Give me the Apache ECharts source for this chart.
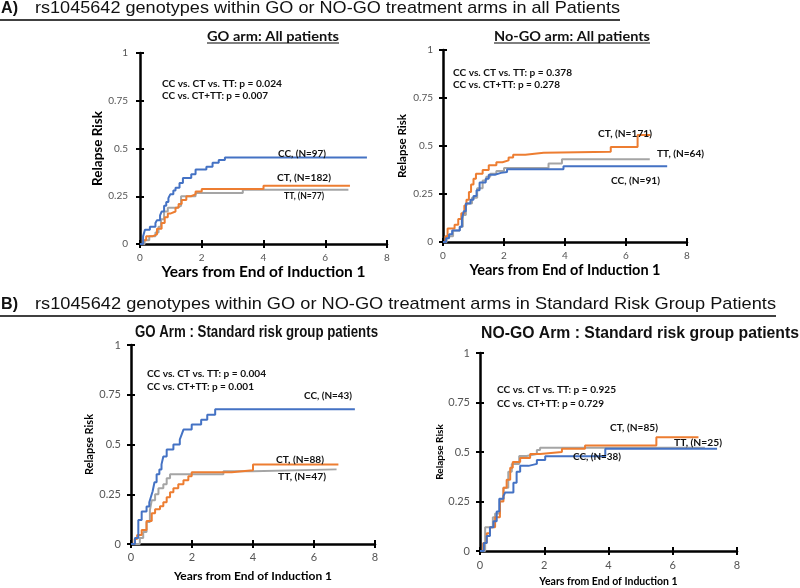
<!DOCTYPE html>
<html>
<head>
<meta charset="utf-8">
<script src="https://cdn.jsdelivr.net/npm/echarts@6/dist/echarts.min.js"></script>
<style>
    html, body { margin: 0; padding: 0; background: #fff; }
    #main { width: 800px; height: 588px; }
</style>
</head>
<body>
<div id="main"></div>
<script>
    // 曲线数据 [年, 累计复发风险]
    var goAllCC = [[0,0],[0.1,0.04],[0.16,0.075],[0.32,0.09],[0.5,0.11],[0.55,0.125],[0.65,0.15],[0.7,0.17],[0.78,0.2],[0.85,0.22],[0.92,0.24],[0.98,0.26],[1.08,0.28],[1.15,0.295],[1.28,0.32],[1.39,0.345],[1.66,0.365],[1.8,0.39],[2.15,0.405],[2.35,0.425],[2.55,0.44],[2.75,0.453],[7.35,0.453]];
    var goAllCT = [[0,0],[0.1,0.02],[0.2,0.04],[0.4,0.05],[0.55,0.08],[0.7,0.11],[0.8,0.14],[0.9,0.16],[1.0,0.17],[1.15,0.19],[1.25,0.21],[1.35,0.23],[1.5,0.25],[1.65,0.26],[1.8,0.275],[2.0,0.288],[4.0,0.305],[6.8,0.305]];
    var goAllTT = [[0,0],[0.15,0.02],[0.3,0.04],[0.5,0.06],[0.6,0.09],[0.68,0.13],[0.78,0.17],[0.9,0.19],[1.2,0.2],[1.33,0.25],[1.8,0.267],[3.33,0.284],[6.75,0.284]];

    var nogoAllCC = [[0,0],[0.1,0.02],[0.2,0.04],[0.3,0.06],[0.55,0.08],[0.62,0.12],[0.68,0.16],[0.75,0.2],[0.9,0.22],[1.0,0.24],[1.1,0.27],[1.2,0.31],[1.4,0.33],[1.5,0.35],[1.7,0.36],[1.9,0.365],[2.1,0.379],[3.95,0.395],[7.35,0.395]];
    var nogoAllCT = [[0,0],[0.08,0.03],[0.15,0.07],[0.38,0.09],[0.5,0.12],[0.6,0.15],[0.7,0.19],[0.77,0.22],[0.85,0.26],[0.92,0.3],[1.0,0.33],[1.08,0.355],[1.3,0.375],[1.5,0.4],[1.75,0.415],[1.95,0.425],[2.15,0.44],[2.3,0.455],[2.7,0.465],[3.3,0.47],[5.5,0.495],[6.38,0.557],[6.8,0.557]];
    var nogoAllTT = [[0,0],[0.12,0.03],[0.33,0.06],[0.55,0.08],[0.65,0.14],[0.75,0.2],[0.95,0.23],[1.12,0.28],[1.3,0.32],[1.42,0.34],[1.55,0.355],[1.75,0.37],[2.0,0.385],[3.46,0.409],[3.9,0.431],[6.78,0.431]];

    var goStdCC = [[0,0],[0.13,0.03],[0.24,0.12],[0.35,0.163],[0.51,0.188],[0.6,0.21],[0.66,0.24],[0.71,0.265],[0.77,0.31],[0.84,0.35],[0.93,0.375],[1.0,0.4],[1.06,0.44],[1.17,0.475],[1.39,0.5],[1.6,0.525],[1.66,0.55],[1.72,0.575],[1.99,0.6],[2.3,0.625],[2.5,0.65],[2.76,0.677],[7.34,0.677]];
    var goStdCT = [[0,0],[0.12,0.025],[0.2,0.045],[0.35,0.07],[0.51,0.115],[0.68,0.154],[0.79,0.175],[0.95,0.19],[1.06,0.21],[1.17,0.235],[1.28,0.26],[1.39,0.28],[1.55,0.3],[1.72,0.32],[1.88,0.34],[1.99,0.36],[3.3,0.37],[4.0,0.4],[6.8,0.4]];
    var goStdTT = [[0,0],[0.29,0.03],[0.4,0.06],[0.51,0.11],[0.62,0.17],[0.68,0.22],[0.79,0.25],[0.9,0.28],[1.06,0.3],[1.17,0.33],[1.28,0.351],[3.03,0.365],[4.0,0.375],[6.74,0.375]];

    var nogoStdCC = [[0,0],[0.12,0.04],[0.21,0.076],[0.31,0.12],[0.42,0.15],[0.52,0.2],[0.6,0.264],[0.73,0.277],[0.78,0.295],[1.04,0.345],[1.14,0.4],[1.25,0.43],[1.51,0.44],[1.77,0.46],[2.03,0.479],[3.9,0.516],[7.38,0.516]];
    var nogoStdCT = [[0,0],[0.1,0.04],[0.21,0.09],[0.31,0.12],[0.47,0.17],[0.62,0.25],[0.73,0.32],[0.83,0.36],[0.94,0.42],[1.02,0.45],[1.25,0.47],[1.56,0.49],[1.87,0.5],[2.55,0.516],[3.27,0.533],[5.49,0.575],[6.8,0.575]];
    var nogoStdTT = [[0,0],[0.16,0.12],[0.4,0.17],[0.47,0.19],[0.62,0.26],[0.73,0.32],[0.88,0.4],[0.99,0.44],[1.22,0.48],[1.45,0.49],[1.77,0.51],[1.87,0.521],[7.0,0.521]];

    var colors = { CC: '#4472C4', CT: '#ED7D31', TT: '#A5A5A5' };
    var xTicks = { min: 0, max: 8, interval: 2 };
    var yTicks = { min: 0, max: 1, interval: 0.25 };

    // 四个面板的位置
    var panels = [
        { left: 140, top: 53, width: 247, height: 191, xName: 15.5, xGap: 19, yName: 13.5, yGap: 32, label: 10, xm: 9, ym: 12,
          data: { CC: goAllCC, CT: goAllCT, TT: goAllTT } },
        { left: 443, top: 50, width: 244, height: 192, xName: 14.5, xGap: 21, yName: 11.5, yGap: 35, label: 10, xm: 9, ym: 10,
          data: { CC: nogoAllCC, CT: nogoAllCT, TT: nogoAllTT } },
        { left: 131, top: 345, width: 244, height: 199, xName: 12, xGap: 26, yName: 11, yGap: 31, label: 11, xm: 8, ym: 10,
          data: { CC: goStdCC, CT: goStdCT, TT: goStdTT } },
        { left: 480, top: 353, width: 257, height: 198, xName: 10.5, xGap: 25, yName: 10, yGap: 32, label: 11, xm: 9, ym: 10,
          data: { CC: nogoStdCC, CT: nogoStdCT, TT: nogoStdTT } }
    ];

    var cv = document.createElement('canvas').getContext('2d');
    function fitScale(txt, size, family, weight, w) {
        cv.font = weight + ' ' + size + 'px ' + family;
        return w / cv.measureText(txt).width;
    }
    // 文本: 左端 x, 中线 y, 目标宽度 w
    function txt(t, x, y, w, size, family, weight) {
        return {
            type: 'text', x: x, y: y, scaleX: fitScale(t, size, family, weight, w), z: 50,
            style: { text: t, fontSize: size, fontFamily: family, fontWeight: weight, fill: '#111', verticalAlign: 'middle' }
        };
    }
    function uline(x1, x2, y, lw) {
        return { type: 'line', z: 50, shape: { x1: x1, y1: y, x2: x2, y2: y }, style: { stroke: '#000', lineWidth: lw || 1.3 } };
    }

    var grid = [], xAxis = [], yAxis = [], series = [];
    var line = { show: true, lineStyle: { color: '#000', width: 2.5 } };
    var tickOut = { show: true, length: 4, lineStyle: { color: '#000', width: 2 } };
    var tickIn = { show: true, inside: true, length: 4, lineStyle: { color: '#000', width: 2 } };
    panels.forEach(function (p, i) {
        grid.push({ left: p.left, top: p.top, width: p.width, height: p.height, outerBoundsMode: 'none' });
        xAxis.push({
            type: 'value', gridIndex: i, position: 'bottom', min: xTicks.min, max: xTicks.max, interval: xTicks.interval,
            name: 'Years from End of Induction 1', nameLocation: 'middle', nameGap: p.xGap,
            nameTextStyle: { fontFamily: 'Lato', fontWeight: 'bold', fontSize: p.xName, color: '#000' },
            axisLine: line, axisTick: tickOut, splitLine: { show: false },
            axisLabel: { margin: p.xm, fontFamily: 'Lato', fontSize: p.label, color: '#555' }
        });
        yAxis.push({
            type: 'value', gridIndex: i, position: 'left', min: yTicks.min, max: yTicks.max, interval: yTicks.interval,
            name: 'Relapse Risk', nameLocation: 'middle', nameGap: p.yGap,
            nameTextStyle: { fontFamily: 'Lato', fontWeight: 'bold', fontSize: p.yName, color: '#000' },
            axisLine: line, axisTick: tickOut, splitLine: { show: false },
            axisLabel: { margin: p.ym, fontFamily: 'Lato', fontSize: p.label, color: '#555' }
        });
        ['TT', 'CT', 'CC'].forEach(function (g) {
            series.push({
                name: g, type: 'line', step: 'end', xAxisIndex: i, yAxisIndex: i,
                showSymbol: false, data: p.data[g], silent: true,
                lineStyle: { color: colors[g], width: 2 }
            });
        });
    });
    // 刻度线穿过轴线：再叠一组只画内侧刻度的轴
    panels.forEach(function (p, i) {
        xAxis.push({
            type: 'value', gridIndex: i, position: 'bottom', min: xTicks.min, max: xTicks.max, interval: xTicks.interval,
            axisLine: { show: false }, axisTick: tickIn, axisLabel: { show: false }, splitLine: { show: false }
        });
        yAxis.push({
            type: 'value', gridIndex: i, position: 'left', min: yTicks.min, max: yTicks.max, interval: yTicks.interval,
            axisLine: { show: false }, axisTick: tickIn, axisLabel: { show: false }, splitLine: { show: false }
        });
    });

    var AR = 'Liberation Sans', CB = 'Lato';
    var graphic = [
        // 总标题
        txt('A)', 1, 8.5, 17, 17, AR, 'bold'),
        txt('rs1045642 genotypes within GO or NO-GO treatment arms in all Patients', 35, 8.5, 585, 17, AR, 'normal'),
        uline(0, 620, 20),
        txt('B)', 1, 304.5, 17, 17, AR, 'bold'),
        txt('rs1045642 genotypes within GO or NO-GO treatment arms in Standard Risk Group Patients', 35, 304.5, 741, 17, AR, 'normal'),
        uline(0, 776, 316),
        // 面板标题
        txt('GO arm: All patients', 207, 37, 132, 13, CB, 'bold'),
        uline(207, 339, 43, 1.2),
        txt('No-GO arm: All patients', 494, 37, 156, 13, CB, 'bold'),
        uline(494, 650, 43, 1.2),
        txt('GO Arm : Standard risk group patients', 135, 333, 243, 16, AR, 'bold'),
        txt('NO-GO Arm : Standard risk group patients', 481, 334, 318, 16, AR, 'bold'),
        // p 值
        txt('CC vs. CT vs. TT: p = 0.024', 162, 83.5, 120, 10, CB, 'bold'),
        txt('CC vs. CT+TT: p = 0.007', 162, 96, 106, 10, CB, 'bold'),
        txt('CC vs. CT vs. TT: p = 0.378', 453, 72.5, 119, 10, CB, 'bold'),
        txt('CC vs. CT+TT: p = 0.278', 453, 85, 107, 10, CB, 'bold'),
        txt('CC vs. CT vs. TT: p = 0.004', 147, 373.5, 119, 10, CB, 'bold'),
        txt('CC vs. CT+TT: p = 0.001', 147, 387, 107, 10, CB, 'bold'),
        txt('CC vs. CT vs. TT: p = 0.925', 497, 390, 119, 10, CB, 'bold'),
        txt('CC vs. CT+TT: p = 0.729', 497, 403.5, 107, 10, CB, 'bold'),
        // 曲线标签
        txt('CC, (N=97)', 278, 153.5, 48, 10, CB, 'bold'),
        txt('CT, (N=182)', 277, 177.5, 54, 10, CB, 'bold'),
        txt('TT, (N=77)', 284, 196, 40, 10, CB, 'bold'),
        txt('CT, (N=171)', 598, 134, 54, 10, CB, 'bold'),
        txt('TT, (N=64)', 657, 153.5, 47, 10, CB, 'bold'),
        txt('CC, (N=91)', 611, 181, 49, 10, CB, 'bold'),
        txt('CC, (N=43)', 304, 396, 48, 10, CB, 'bold'),
        txt('CT, (N=88)', 276, 459.5, 48, 10, CB, 'bold'),
        txt('TT, (N=47)', 278, 477, 48, 10, CB, 'bold'),
        txt('CT, (N=85)', 610, 427.5, 48, 10, CB, 'bold'),
        txt('TT, (N=25)', 674, 443, 48, 10, CB, 'bold'),
        txt('CC, (N=38)', 573, 457, 48, 10, CB, 'bold')
    ];

    var chart = echarts.init(document.getElementById('main'), null, { renderer: 'canvas' });
    chart.setOption({
        animation: false,
        backgroundColor: '#fff',
        grid: grid,
        xAxis: xAxis,
        yAxis: yAxis,
        series: series,
        graphic: graphic
    });
</script>
</body>
</html>
